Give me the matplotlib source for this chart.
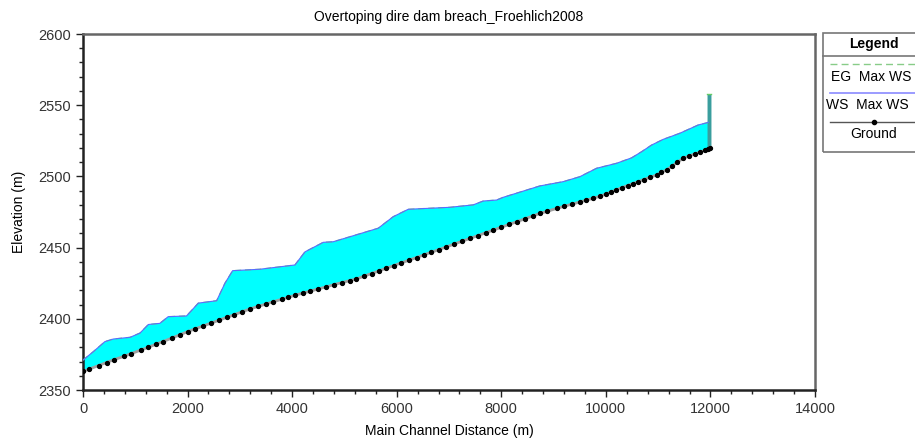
import matplotlib
matplotlib.use("Agg")
import matplotlib.pyplot as plt
from matplotlib.lines import Line2D
from matplotlib.patches import Rectangle

plt.rcParams['font.family'] = ['Liberation Sans', 'DejaVu Sans']

# ground profile (main channel distance, m / elevation, m)
ground_x = [0, 120, 300, 450, 600, 780, 920, 1100, 1250, 1400, 1530, 1700, 1850, 2000,
            2150, 2300, 2450, 2600, 2750, 2880, 3050, 3200,
            3350, 3500, 3640, 3800, 3920, 4050,
            4200, 4350, 4500, 4650, 4800, 4950, 5100, 5230,
            5380, 5520, 5660, 5800, 5940, 6080, 6230, 6380, 6520, 6660, 6800, 6950,
            7100, 7250, 7400, 7550, 7700, 7850, 8000, 8150, 8300, 8450, 8600, 8740,
            8880, 9060, 9200, 9350, 9500, 9620, 9760, 9885,
            10000, 10100, 10200, 10300, 10420, 10520, 10620, 10720, 10850, 10970,
            11060, 11160, 11260, 11370, 11480, 11590, 11700, 11800, 11900, 11960, 12000]
ground_z = [2363, 2364.7, 2367.2, 2369.3, 2371.4, 2373.6, 2375.5, 2378, 2380, 2382.2, 2384, 2386.5, 2388.7, 2391,
            2393, 2395, 2397, 2399, 2401, 2402.7, 2405, 2407,
            2408.7, 2410.4, 2412, 2413.7, 2415, 2416.5,
            2418, 2419.4, 2421, 2422.4, 2424, 2425.4, 2426.8, 2428,
            2430, 2431.8, 2433.6, 2435.5, 2437.3, 2439.2, 2441.1, 2443, 2444.9, 2446.7, 2448.5, 2450.5,
            2452.5, 2454.5, 2456.4, 2458.4, 2460.4, 2462.3, 2464.3, 2466.3, 2468.2, 2470.2, 2472.2, 2474,
            2475.5, 2477.5, 2479, 2480.5, 2482, 2483.2, 2484.7, 2486,
            2487.6, 2489, 2490.5, 2492, 2493.6, 2495, 2496.3, 2497.7, 2499.4, 2501,
            2502.8, 2504.5, 2507, 2510, 2512.7, 2514.3, 2515.8, 2517, 2518.3, 2519, 2520]

# max water surface profile
ws_x = [0, 200, 420, 580, 900, 1090, 1250, 1470, 1630, 1980, 2205, 2556, 2715, 2862,
        3384, 4053, 4245, 4595, 4786, 5646, 5933, 6220, 7017, 7463, 7654, 7910, 8036,
        8738, 9184, 9503, 9822, 10204, 10491, 10682, 10874, 11096, 11415, 11766, 11938, 11960]
ws_z = [2371, 2377, 2384, 2385.8, 2387, 2390, 2396, 2396.8, 2401.5, 2402, 2411, 2412.7, 2425, 2433.8,
        2434.8, 2437.8, 2447, 2453.7, 2454.1, 2463.6, 2471.7, 2476.9, 2478.3, 2480, 2482.7, 2483.4, 2485.3,
        2493.3, 2496.3, 2499.8, 2505.7, 2509.2, 2513, 2517.3, 2522, 2526, 2530.3, 2536.1, 2537.7, 2538]
eg_z = ws_z

# dam / inline structure at upstream end
dam_x = [11935, 12010]
dam_base = [2518.8, 2520]
dam_top = 2558

fig = plt.figure(figsize=(9.15, 4.4), dpi=100)
ax = fig.add_axes([83 / 915, 1 - 390 / 440, (815 - 83) / 915, (390 - 34) / 440])

ax.fill(ws_x + ground_x[::-1], ws_z + ground_z[::-1], color='#00ffff', lw=0, zorder=1)
ax.fill_between(dam_x, dam_base, dam_top, color='#3a9e9e', lw=0, zorder=2)
ax.plot(dam_x, [dam_top, dam_top], color='#66cc66', lw=1, zorder=3)
ax.plot(ws_x, eg_z, color='#77cc77', lw=0.9, ls=(0, (5, 3)), zorder=3)
ax.plot(ws_x, ws_z, color='#5a6cff', lw=0.8, zorder=4)
ax.plot(ground_x, ground_z, color='#a0a0a0', lw=2, zorder=5)
ax.plot(ground_x, ground_z, ls='none', marker='o', ms=2.8, color='black', zorder=6)

ax.set_xlim(0, 14000)
ax.set_ylim(2350, 2600)
ax.set_xticks(range(0, 14001, 2000))
ax.set_xticks(range(0, 14001, 400), minor=True)
ax.set_yticks(range(2350, 2601, 50))
ax.set_yticks(range(2350, 2601, 10), minor=True)
ax.tick_params(which='major', direction='out', length=5, width=1, labelsize=10.5,
               colors='#222222', labelcolor='#333333')
ax.tick_params(which='minor', direction='out', length=3, width=1, colors='#222222')
for s in ['left', 'bottom']:
    ax.spines[s].set_color('#222222')
    ax.spines[s].set_linewidth(1.8)
for s in ['top', 'right']:
    ax.spines[s].set_color('#666666')
    ax.spines[s].set_linewidth(1.8)

ax.set_title('Overtoping dire dam breach_Froehlich2008', fontsize=10, pad=9)
ax.set_xlabel('Main Channel Distance (m)', fontsize=10, labelpad=6)
ax.set_ylabel('Elevation (m)', fontsize=10, labelpad=9)

# legend box drawn by hand (runs off the right edge like the original)
W, H = 915.0, 440.0
def fx(p):
    return p / W
def fy(p):
    return 1 - p / H

fig.patches.append(Rectangle((fx(823), fy(152)), fx(925) - fx(823), fy(33) - fy(152),
                             transform=fig.transFigure, fill=False, ec='#777777', lw=1.2))
fig.lines.append(Line2D([fx(823), fx(925)], [fy(56), fy(56)], transform=fig.transFigure,
                        color='#777777', lw=1.2))
fig.text(fx(874), fy(44), 'Legend', ha='center', va='center', fontsize=10, fontweight='bold')
fig.lines.append(Line2D([fx(830), fx(925)], [fy(64), fy(64)], transform=fig.transFigure,
                        color='#88cc88', lw=1, ls=(0, (5, 3))))
fig.text(fx(831), fy(77), 'EG  Max WS', ha='left', va='center', fontsize=10)
fig.lines.append(Line2D([fx(830), fx(925)], [fy(93), fy(93)], transform=fig.transFigure,
                        color='#8a8aff', lw=1.2))
fig.text(fx(826), fy(105), 'WS  Max WS', ha='left', va='center', fontsize=10)
fig.lines.append(Line2D([fx(830), fx(925)], [fy(122), fy(122)], transform=fig.transFigure,
                        color='#555555', lw=1))
fig.lines.append(Line2D([fx(874)], [fy(122)], transform=fig.transFigure,
                        color='black', marker='o', ms=3, ls='none'))
fig.text(fx(874), fy(134), 'Ground', ha='center', va='center', fontsize=10)

fig.savefig('out.png', dpi=100)
